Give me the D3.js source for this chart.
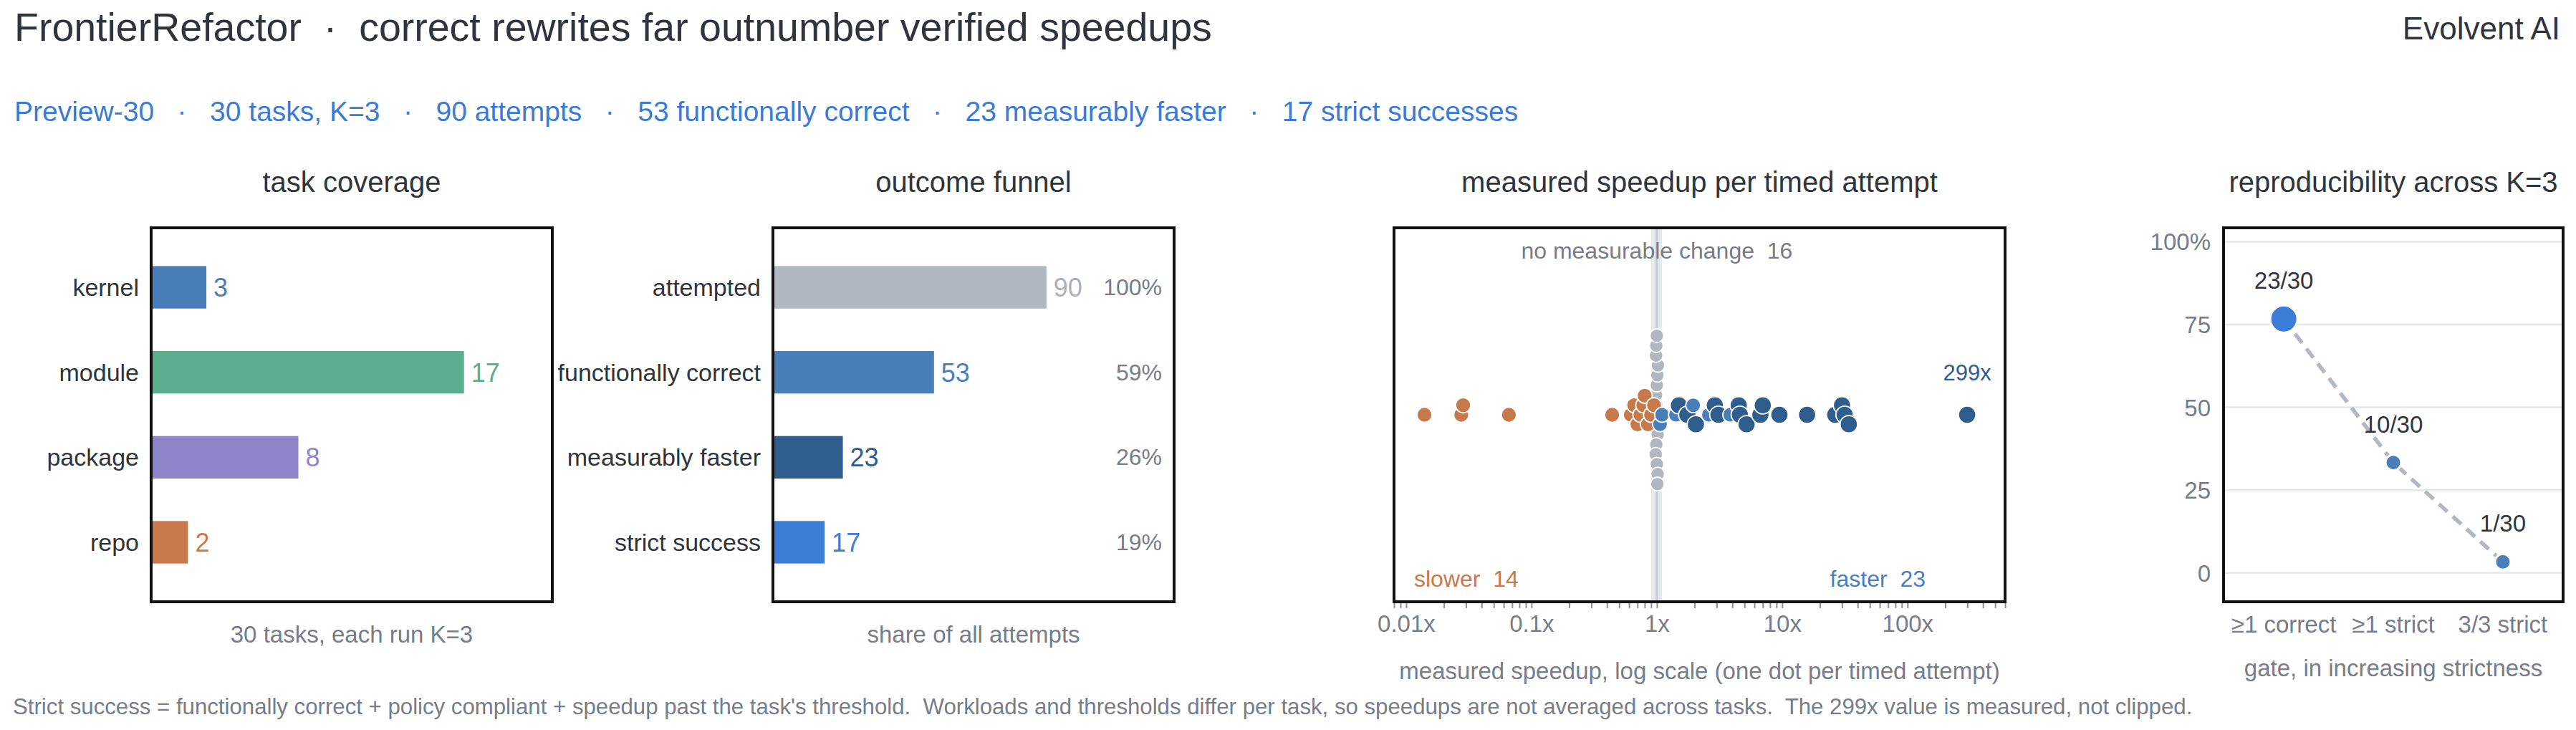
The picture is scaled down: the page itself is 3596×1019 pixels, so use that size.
<!DOCTYPE html>
<html><head><meta charset="utf-8">
<script src="https://cdn.jsdelivr.net/npm/d3@7/dist/d3.min.js"></script>
<style>
body{margin:0;background:#fff}
svg{display:block}
text{font-family:"Liberation Sans",Arial,Helvetica,sans-serif}
</style>
</head><body>
<svg id="chart" width="3596" height="1019"></svg>
<script>
// ---------------- data ----------------
const titleMain = "FrontierRefactor";
const titleSub = "correct rewrites far outnumber verified speedups";
const brand = "Evolvent AI";
const summaryItems = ["Preview-30", "30 tasks, K=3", "90 attempts", "53 functionally correct", "23 measurably faster", "17 strict successes"];

const coverageCats = ["kernel", "module", "package", "repo"];
const coverageVals = [3, 17, 8, 2];

const funnelCats = ["attempted", "functionally correct", "measurably faster", "strict success"];
const funnelVals = [90, 53, 23, 17];
const funnelShare = ["100%", "59%", "26%", "19%"];

// measured speedups (x), one per timed attempt
const slowerSpeedups = [0.014, 0.0275, 0.0285, 0.066, 0.44, 0.62, 0.66, 0.70, 0.74, 0.78, 0.80, 0.85, 0.90, 0.95];
const noChangeSpeedups = [1.00, 0.99, 1.01, 0.985, 1.015, 1.00, 0.99, 1.01, 0.98, 1.02, 1.00, 0.985, 1.015, 0.99, 1.01, 1.00];
const fasterSpeedups = [1.06, 1.10, 1.42, 1.95, 2.6, 3.85];
const fasterStrongSpeedups = [1.5, 1.75, 2.05, 2.9, 3.1, 4.5, 4.6, 5.2, 6.7, 7.0, 9.5, 15.8, 26.5, 30, 31.5, 34, 299];
const speedupTickLabels = [0.01, 0.1, 1, 10, 100];
const countSlower = 14, countFaster = 23, countNoChange = 16;

const gateCats = ["≥1 correct", "≥1 strict", "3/3 strict"];
const gateHits = [23, 10, 1];
const gateTotal = 30;
const reproTicks = [0, 25, 50, 75, 100];

const footnote = "Strict success = functionally correct + policy compliant + speedup past the task's threshold.  Workloads and thresholds differ per task, so speedups are not averaged across tasks.  The 299x value is measured, not clipped.";

// ---------------- styles ----------------
const C = {
  dark: "#2f353d", grey: "#767d88", blue: "#3a7bd5",
  steel: "#4a7ebb", green: "#5aae8e", purple: "#8e84c9", orange: "#c8794b",
  navy: "#2e5d8e", bright: "#3b7dd8", lightGrey: "#b0b7c1", frame: "#111"
};
const svg = d3.select("#chart");
const FY0 = 318, FY1 = 840;

// ---------------- header ----------------
svg.append("text").attr("x", 20).attr("y", 57).attr("font-size", 55.5).attr("fill", C.dark)
  .style("white-space", "pre").text(titleMain + "  \u00b7  " + titleSub);
svg.append("text").attr("x", 3574).attr("y", 55).attr("font-size", 44).attr("fill", C.dark)
  .attr("text-anchor", "end").text(brand);
svg.append("text").attr("x", 20).attr("y", 169).attr("font-size", 39).attr("fill", C.blue)
  .style("white-space", "pre").text(summaryItems.join("   \u00b7   "));

function panelTitle(cx, t) {
  svg.append("text").attr("x", cx).attr("y", 268).attr("font-size", 40).attr("fill", C.dark)
    .attr("text-anchor", "middle").text(t);
}
function axisTitle(cx, y, t) {
  svg.append("text").attr("x", cx).attr("y", y).attr("font-size", 33).attr("fill", C.grey)
    .attr("text-anchor", "middle").text(t);
}
function frame(x0, x1) {
  svg.append("rect").attr("x", x0).attr("y", FY0).attr("width", x1 - x0).attr("height", FY1 - FY0)
    .attr("fill", "none").attr("stroke", C.frame).attr("stroke-width", 4);
}

// ---------------- horizontal bar panel ----------------
function barPanel(x0, x1, cats, vals, max, colors, valColors, title, axisT, shares) {
  const x = d3.scaleLinear().domain([0, max]).range([x0, x1]);
  const y = d3.scaleBand().domain(cats).range([FY0, FY1]).paddingInner(0.5).paddingOuter(0.45);
  const g = svg.append("g");
  g.selectAll("rect.bar").data(cats).join("rect").attr("class", "bar")
    .attr("x", x(0)).attr("y", d => y(d)).attr("height", y.bandwidth())
    .attr("width", (d, i) => x(vals[i]) - x(0)).attr("fill", (d, i) => colors[i]);
  g.selectAll("text.cat").data(cats).join("text").attr("class", "cat")
    .attr("x", x0 - 17).attr("y", d => y(d) + y.bandwidth() / 2 + 12)
    .attr("text-anchor", "end").attr("font-size", 34).attr("fill", C.dark).text(d => d);
  g.selectAll("text.val").data(cats).join("text").attr("class", "val")
    .attr("x", (d, i) => x(vals[i]) + 10).attr("y", d => y(d) + y.bandwidth() / 2 + 13)
    .attr("font-size", 36).attr("fill", (d, i) => valColors[i]).text((d, i) => vals[i]);
  if (shares) {
    g.selectAll("text.share").data(cats).join("text").attr("class", "share")
      .attr("x", x1 - 17).attr("y", d => y(d) + y.bandwidth() / 2 + 11)
      .attr("text-anchor", "end").attr("font-size", 32).attr("fill", C.grey).text((d, i) => shares[i]);
  }
  frame(x0, x1);
  panelTitle((x0 + x1) / 2, title);
  axisTitle((x0 + x1) / 2, 897, axisT);
}

barPanel(211, 771, coverageCats, coverageVals, 21.8,
  [C.steel, C.green, C.purple, C.orange], [C.steel, C.green, C.purple, C.orange],
  "task coverage", "30 tasks, each run K=3", null);

barPanel(1079, 1639, funnelCats, funnelVals, 132,
  ["#b0b7c0", C.steel, C.navy, C.bright], ["#aab1bb", C.steel, C.navy, C.bright],
  "outcome funnel", "share of all attempts", funnelShare);

// ---------------- speedup swarm ----------------
(function () {
  const X0 = 1946, X1 = 2799, CY = (FY0 + FY1) / 2;
  const x = d3.scaleLog().domain([0.008, 600]).range([X0, X1]);
  const g = svg.append("g");
  // no-change band
  g.append("rect").attr("x", x(0.9)).attr("y", FY0).attr("width", x(1.1) - x(0.9)).attr("height", FY1 - FY0)
    .attr("fill", "#e6e9ee");
  g.append("line").attr("x1", x(1)).attr("x2", x(1)).attr("y1", FY0).attr("y2", FY1)
    .attr("stroke", "#c9ced6").attr("stroke-width", 4);

  function swarm(vals, h, d) {
    const placed = [];
    vals.forEach(p => {
      const px = x(p.v);
      for (let k = 0; k < 60; k++) {
        const off = k === 0 ? 0 : (k % 2 ? -Math.ceil(k / 2) * h : Math.ceil(k / 2) * h);
        const py = CY + off;
        if (placed.every(q => (q.x - px) ** 2 + (q.y - py) ** 2 >= d * d)) {
          placed.push({ ...p, x: px, y: py }); break;
        }
      }
    });
    return placed;
  }
  const greyPts = swarm(noChangeSpeedups.map(v => ({ v, c: C.lightGrey, r: 9.6 })), 13.8, 13);
  const colored = [
    ...slowerSpeedups.map(v => ({ v, c: C.orange, r: 10.6 })),
    ...fasterSpeedups.map(v => ({ v, c: C.steel, r: 10.4 })),
    ...fasterStrongSpeedups.map(v => ({ v, c: C.navy, r: 12.2 }))
  ].sort((a, b) => a.v - b.v);
  const colPts = swarm(colored, 13.3, 12.5);

  g.selectAll("circle.grey").data(greyPts).join("circle").attr("class", "grey")
    .attr("cx", d => d.x).attr("cy", d => d.y).attr("r", d => d.r)
    .attr("fill", d => d.c).attr("stroke", "#fff").attr("stroke-width", 1.8);
  g.selectAll("circle.col").data(colPts).join("circle").attr("class", "col")
    .attr("cx", d => d.x).attr("cy", d => d.y).attr("r", d => d.r)
    .attr("fill", d => d.c).attr("stroke", "#fff").attr("stroke-width", 1.8);

  const maxV = d3.max(fasterStrongSpeedups);
  g.append("text").attr("x", x(maxV)).attr("y", CY - 48).attr("text-anchor", "middle")
    .attr("font-size", 31).attr("fill", C.navy).text(maxV + "x");

  g.append("text").attr("x", x(1)).attr("y", 361).attr("text-anchor", "middle").attr("font-size", 32)
    .attr("fill", C.grey).style("white-space", "pre").text("no measurable change  " + countNoChange);
  g.append("text").attr("x", X0 + 28).attr("y", 819).attr("font-size", 32)
    .attr("fill", C.orange).style("white-space", "pre").text("slower  " + countSlower);
  g.append("text").attr("x", X1 - 111).attr("y", 819).attr("text-anchor", "end").attr("font-size", 32)
    .attr("fill", C.steel).style("white-space", "pre").text("faster  " + countFaster);

  // axis with minor ticks
  const tickVals = [];
  for (let e = -3; e <= 2; e++) for (let m = 1; m <= 9; m++) {
    const v = m * Math.pow(10, e);
    if (v >= 0.008 && v <= 600.0001) tickVals.push(v);
  }
  const ax = svg.append("g").attr("transform", `translate(0,${FY1})`)
    .call(d3.axisBottom(x).tickValues(tickVals).tickSize(9).tickPadding(10).tickSizeOuter(0)
      .tickFormat(v => speedupTickLabels.some(t => Math.abs(t - v) / t < 1e-9) ? (v + "x") : ""));
  ax.select(".domain").remove();
  ax.selectAll(".tick line").attr("stroke", "#8a919b").attr("stroke-width", 2);
  ax.selectAll(".tick text").attr("fill", C.grey).attr("font-size", 33)
    .attr("font-family", '"Liberation Sans",Arial,sans-serif');

  frame(X0, X1);
  panelTitle((X0 + X1) / 2, "measured speedup per timed attempt");
  axisTitle((X0 + X1) / 2, 948, "measured speedup, log scale (one dot per timed attempt)");
})();

// ---------------- reproducibility ----------------
(function () {
  const X0 = 3104, X1 = 3578;
  const x = d3.scalePoint().domain(gateCats).range([X0, X1]).padding(0.55);
  const y = d3.scaleLinear().domain([-8.7, 104.2]).range([FY1, FY0]);
  const g = svg.append("g");
  g.selectAll("line.grid").data(reproTicks).join("line").attr("class", "grid")
    .attr("x1", X0).attr("x2", X1).attr("y1", d => y(d)).attr("y2", d => y(d))
    .attr("stroke", "#e4e8ed").attr("stroke-width", 2.5);
  g.selectAll("text.yt").data(reproTicks).join("text").attr("class", "yt")
    .attr("x", X0 - 18).attr("y", d => y(d) + 12).attr("text-anchor", "end")
    .attr("font-size", 33).attr("fill", C.grey).text(d => d === 100 ? "100%" : d);
  const pts = gateCats.map((c, i) => ({ c, v: gateHits[i] / gateTotal * 100, h: gateHits[i], i }));
  g.append("path").datum(pts)
    .attr("d", d3.line().x(d => x(d.c)).y(d => y(d.v)))
    .attr("fill", "none").attr("stroke", "#b0b8c2").attr("stroke-width", 5.5).attr("stroke-dasharray", "16,10");
  g.selectAll("circle").data(pts).join("circle")
    .attr("cx", d => x(d.c)).attr("cy", d => y(d.v)).attr("r", d => d.i === 0 ? 19 : 11)
    .attr("fill", d => d.i === 0 ? C.bright : C.steel).attr("stroke", "#fff").attr("stroke-width", 3);
  g.selectAll("text.pl").data(pts).join("text").attr("class", "pl")
    .attr("x", d => x(d.c)).attr("y", d => y(d.v) - 42).attr("text-anchor", "middle")
    .attr("font-size", 33).attr("fill", C.dark).text(d => d.h + "/" + gateTotal);
  g.selectAll("text.xl").data(gateCats).join("text").attr("class", "xl")
    .attr("x", d => x(d)).attr("y", 883).attr("text-anchor", "middle")
    .attr("font-size", 33).attr("fill", C.grey).text(d => d);
  frame(X0, X1);
  panelTitle((X0 + X1) / 2, "reproducibility across K=3");
  axisTitle((X0 + X1) / 2, 944, "gate, in increasing strictness");
})();

// ---------------- footnote ----------------
svg.append("text").attr("x", 18).attr("y", 997).attr("font-size", 31.2).attr("fill", C.grey)
  .style("white-space", "pre").text(footnote);
</script>
</body></html>
